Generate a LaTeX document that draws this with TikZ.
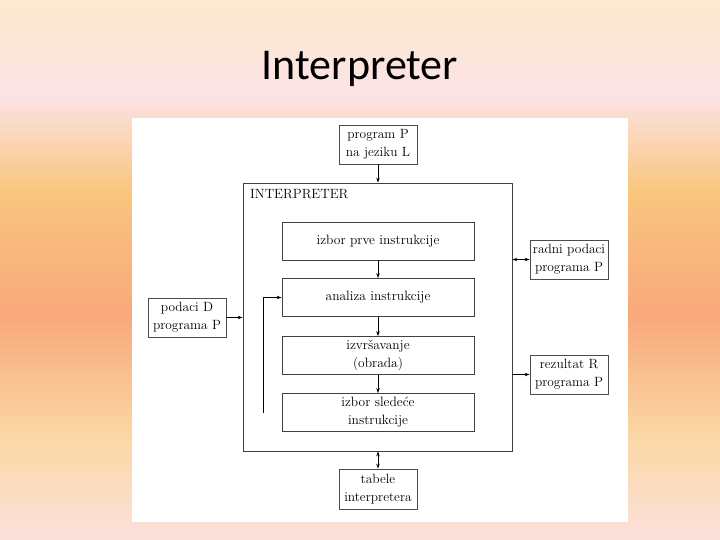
\documentclass[tikz,border=0pt]{standalone}
\usepackage{fontspec}
\usepackage{tikz}
\usetikzlibrary{arrows.meta,positioning}
\newfontfamily\naslovfont{Carlito}
\definecolor{bgA}{HTML}{FBEACC}
\definecolor{bgB}{HTML}{FCE3E6}
\definecolor{bgC}{HTML}{F9C67E}
\definecolor{bgD}{HTML}{F9A87B}
\definecolor{bgE}{HTML}{FAD7A4}
\definecolor{bgF}{HTML}{FCE1DC}
\tikzset{
  blok/.style={draw=black!75, line width=0.8pt, minimum width=192pt, minimum height=38pt,
    align=center, inner sep=0pt, font=\fontsize{13.5}{18}\selectfont},
  okvir/.style={draw=black!70, line width=0.8pt, minimum width=78pt, minimum height=39pt,
    align=center, inner sep=0pt, font=\fontsize{13.4}{18}\selectfont},
  strelica/.style={-{Stealth[length=5pt,width=3.5pt]}, line width=0.7pt},
  dvostrelica/.style={{Stealth[length=5pt,width=3.5pt]}-{Stealth[length=5pt,width=3.5pt]}, line width=0.7pt}
}
\begin{document}
\begin{tikzpicture}[x=1pt,y=-1pt]
\useasboundingbox (0,0) rectangle (720,540);
% pozadina
\shade[top color=bgA, bottom color=bgB] (0,0) rectangle (720,95);
\shade[top color=bgB, bottom color=bgC] (0,95) rectangle (720,190);
\shade[top color=bgC, bottom color=bgD] (0,190) rectangle (720,315);
\shade[top color=bgD, bottom color=bgE] (0,315) rectangle (720,435);
\shade[top color=bgE, bottom color=bgF] (0,435) rectangle (720,540);
\fill[white] (132,118) rectangle (628,522);
\node (naslov) at (360,69) {\naslovfont\fontsize{44}{50}\selectfont Interpreter};

% interpreter
\node[draw=black!75, line width=0.8pt, minimum width=269pt, minimum height=268pt, inner sep=0pt] (interp) at (377.5,317) {};
\node[anchor=west, inner sep=0pt, font=\fontsize{13.4}{18}\selectfont] (interpnaziv) at (250,194) {INTERPRETER};
\node[blok] (izborprve) at (378,241) {izbor prve instrukcije};
\node[blok] (analiza) at (378,297.5) {analiza instrukcije};
\node[blok] (izvrsavanje) at (378,355.5) {izvršavanje\\(obrada)};
\node[blok] (izborsledece) at (378,412.5) {izbor sledeće\\instrukcije};

% spoljni blokovi
\node[okvir] (program) at (378,144.5) {program P\\na jeziku L};
\node[okvir] (podaci) at (187,317.5) {podaci D\\programa P};
\node[okvir] (radni) at (569,259.5) {radni podaci\\programa P};
\node[okvir] (rezultat) at (569,374.5) {rezultat R\\programa P};
\node[okvir, minimum height=40pt] (tabele) at (378,489) {tabele\\interpretera};

% veze
\draw[strelica] (program) -- (program |- interp.north);
\draw[strelica] (izborprve) -- (analiza);
\draw[strelica] (analiza) -- (izvrsavanje);
\draw[strelica] (izvrsavanje) -- (izborsledece);
\coordinate (povratak) at (263,413);
\draw[strelica] (povratak) |- (analiza.west);
\draw[strelica] (podaci.east) -- (podaci.east -| interp.west);
\draw[dvostrelica] (radni.west -| interp.east) -- (radni.west);
\draw[strelica] (rezultat.west -| interp.east) -- (rezultat.west);
\draw[dvostrelica] (tabele.north |- interp.south) -- (tabele.north);
\end{tikzpicture}
\end{document}
